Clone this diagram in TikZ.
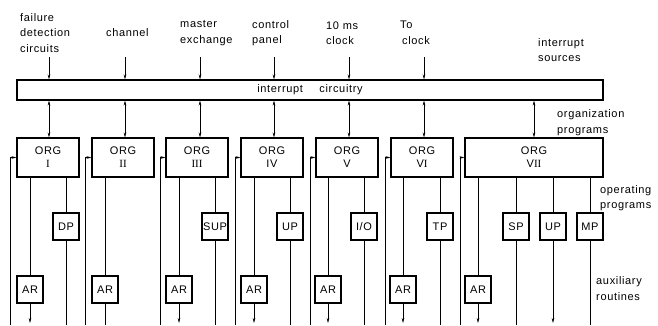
\documentclass[tikz,border=0pt]{standalone}
\usepackage{fontspec}
\setmainfont[LetterSpace=6]{Liberation Sans}
\newfontfamily\numfont{Liberation Serif}
\usetikzlibrary{arrows.meta,positioning}

\begin{document}
\begin{tikzpicture}[x=1pt, y=-1pt,
  every node/.style={font=\fontsize{11}{15.5}\selectfont, inner sep=0pt},
  srclabel/.style={align=left, anchor=west},
  org/.style={rectangle, draw, line width=1.1pt, minimum width=62pt, minimum height=39pt, align=center, font=\fontsize{11}{13}\selectfont},
  prog/.style={rectangle, draw, line width=1.1pt, minimum width=26pt, minimum height=27pt},
  bus/.style={rectangle, draw, line width=1.1pt, minimum width=586pt, minimum height=20pt},
  link/.style={line width=0.6pt},
  arrow/.style={-{Stealth[length=5pt,width=2.6pt]}, line width=0.6pt},
  twoway/.style={{Stealth[length=5pt,width=2.6pt]}-{Stealth[length=5pt,width=2.6pt]}, line width=0.6pt}
]
\useasboundingbox (0,0) rectangle (658,325);

% interrupt sources
\node[srclabel] (failure) at (20,33) {failure\\detection\\circuits};
\node[srclabel] (channel) at (106,33) {channel};
\node[srclabel] (master) at (180,33) {master\\exchange};
\node[srclabel] (control) at (252,33) {control\\panel};
\node[srclabel] (tenms) at (326,33) {10 ms\\clock};
\node[srclabel] (tzero) at (400,33) {To\\\hspace*{2pt}clock};
\node[srclabel] (sources) at (538,50) {interrupt\\sources};

\node[bus] (intr) at (310,90) {interrupt\hspace{1.5em}circuitry};

\coordinate (s1) at (49,57);
\coordinate (s2) at (125,57);
\coordinate (s3) at (200,57);
\coordinate (s4) at (274,57);
\coordinate (s5) at (349,57);
\coordinate (s6) at (424,57);

\draw[arrow] (s1) -- (s1 |- intr.north);
\draw[arrow] (s2) -- (s2 |- intr.north);
\draw[arrow] (s3) -- (s3 |- intr.north);
\draw[arrow] (s4) -- (s4 |- intr.north);
\draw[arrow] (s5) -- (s5 |- intr.north);
\draw[arrow] (s6) -- (s6 |- intr.north);

% organization programs
\node[srclabel] (orglabel) at (557,122.5) {organization\\programs};

\node[org] (org1) at (48,157.5) {ORG\\{\numfont I}};
\node[org] (org2) at (123,157.5) {ORG\\{\numfont II}};
\node[org] (org3) at (197,157.5) {ORG\\{\numfont III}};
\node[org] (org4) at (272,157.5) {ORG\\IV};
\node[org] (org5) at (347,157.5) {ORG\\V};
\node[org] (org6) at (422,157.5) {ORG\\V{\numfont I}};
\node[org, minimum width=138pt] (org7) at (534,157.5) {ORG\\V{\numfont II}};

\draw[twoway] (intr.south -| s1) -- (org1.north -| s1);
\draw[twoway] (intr.south -| s2) -- (org2.north -| s2);
\draw[twoway] (intr.south -| s3) -- (org3.north -| s3);
\draw[twoway] (intr.south -| s4) -- (org4.north -| s4);
\draw[twoway] (intr.south -| s5) -- (org5.north -| s5);
\draw[twoway] (intr.south -| s6) -- (org6.north -| s6);
\draw[twoway] (intr.south -| org7) -- (org7.north);

% operating programs
\node[srclabel] (oplabel) at (600,198) {operating\\programs};

\node[prog] (dp) at (66,226.5) {DP};
\node[prog] (sup) at (215,226.5) {SUP};
\node[prog] (up) at (290,226.5) {UP};
\node[prog] (io) at (364,226.5) {I/O};
\node[prog] (tp) at (440,226.5) {TP};
\node[prog] (sp) at (516,226.5) {SP};
\node[prog] (upb) at (553,226.5) {UP};
\node[prog] (mp) at (590,226.5) {MP};

% auxiliary routines
\node[srclabel] (auxlabel) at (596,288.5) {auxiliary\\routines};

\node[prog] (ar1) at (30,289.5) {AR};
\node[prog] (ar2) at (105,289.5) {AR};
\node[prog] (ar3) at (179,289.5) {AR};
\node[prog] (ar4) at (254,289.5) {AR};
\node[prog] (ar5) at (328,289.5) {AR};
\node[prog] (ar6) at (403,289.5) {AR};
\node[prog] (ar7) at (478,289.5) {AR};

\coordinate (bot) at (0,325);
\coordinate (tip) at (0,323);

\draw[link] (org1.south -| ar1) -- (ar1.north);
\draw[link] (org2.south -| ar2) -- (ar2.north);
\draw[link] (org3.south -| ar3) -- (ar3.north);
\draw[link] (org4.south -| ar4) -- (ar4.north);
\draw[link] (org5.south -| ar5) -- (ar5.north);
\draw[link] (org6.south -| ar6) -- (ar6.north);
\draw[link] (org7.south -| ar7) -- (ar7.north);

\draw[link] (org1.south -| dp) -- (dp.north);
\draw[link] (org3.south -| sup) -- (sup.north);
\draw[link] (org4.south -| up) -- (up.north);
\draw[link] (org5.south -| io) -- (io.north);
\draw[link] (org6.south -| tp) -- (tp.north);
\draw[link] (org7.south -| sp) -- (sp.north);
\draw[link] (org7.south -| upb) -- (upb.north);
\draw[link] (org7.south -| mp) -- (mp.north);

\draw[arrow] (ar1.south) -- (ar1 |- tip);
\draw[link] (ar2.south) -- (ar2 |- bot);
\draw[arrow] (ar3.south) -- (ar3 |- tip);
\draw[arrow] (ar4.south) -- (ar4 |- tip);
\draw[arrow] (ar5.south) -- (ar5 |- tip);
\draw[arrow] (ar6.south) -- (ar6 |- tip);
\draw[arrow] (ar7.south) -- (ar7 |- tip);

\draw[link] (dp.south) -- (dp |- bot);
\draw[link] (sup.south) -- (sup |- bot);
\draw[link] (up.south) -- (up |- bot);
\draw[link] (io.south) -- (io |- bot);
\draw[link] (tp.south) -- (tp |- bot);
\draw[link] (sp.south) -- (sp |- bot);
\draw[arrow] (upb.south) -- (upb |- tip);
\draw[link] (mp.south) -- (mp |- bot);

% returns into the organization programs
\coordinate (r1) at (10,325);
\coordinate (r2) at (85,325);
\coordinate (r3) at (160,325);
\coordinate (r4) at (235,325);
\coordinate (r5) at (310,325);
\coordinate (r6) at (385,325);
\coordinate (r7) at (460,325);

\draw[arrow] (r1) |- (org1.west);
\draw[arrow] (r2) |- (org2.west);
\draw[arrow] (r3) |- (org3.west);
\draw[arrow] (r4) |- (org4.west);
\draw[arrow] (r5) |- (org5.west);
\draw[arrow] (r6) |- (org6.west);
\draw[arrow] (r7) |- (org7.west);

\end{tikzpicture}
\end{document}
